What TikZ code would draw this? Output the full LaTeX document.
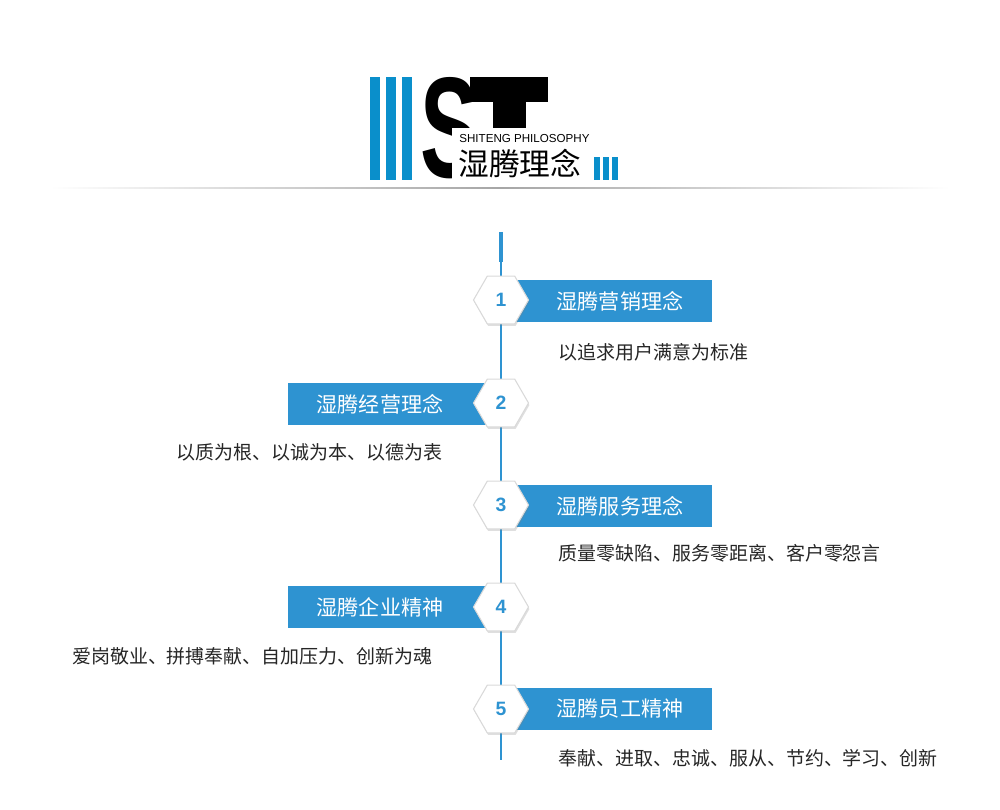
\documentclass[tikz,border=0pt]{standalone}
\usepackage{fontspec}
\setmainfont{Liberation Sans}
\newfontfamily\cjk{Noto Sans CJK SC}
\newfontfamily\heavy{Liberation Sans}
\definecolor{stblue}{HTML}{2E93D1}
\definecolor{lblue}{HTML}{0A8FCB}
\usetikzlibrary{shapes.geometric,shadows}
\tikzset{
 banner/.style={fill=stblue,minimum width=202*0.02cm,minimum height=42*0.02cm,inner sep=0pt},
 btext/.style={text=white,font=\cjk\fontsize{12}{12}\selectfont,inner sep=0pt},
 hexa/.style={regular polygon,regular polygon sides=6,minimum width=55*0.02cm,inner sep=0pt,fill=white,draw=black!15,line width=0.6pt,drop shadow={opacity=0.25,shadow xshift=0.5pt,shadow yshift=-1.2pt}},
 num/.style={text=stblue,font=\bfseries\fontsize{11}{11}\selectfont},
 desc/.style={font=\cjk\fontsize{10.8}{11}\selectfont,text=black!85,inner sep=0pt},
}
\begin{document}
\begin{tikzpicture}[x=0.02cm,y=-0.02cm]
\useasboundingbox (0,0) rectangle (1000,810);
% logo
\foreach \a in {370,386,402} \fill[lblue] (\a,77) rectangle +(10,103);
\foreach \a in {594,603,612} \fill[lblue] (\a,157) rectangle +(6,23);
\node[inner sep=0pt] (S) at (450,128.5) {\scalebox{0.74}[1.2]{\heavy\bfseries\fontsize{68}{68}\selectfont S}};
\fill[black] (470,77) rectangle (548,102);
\fill[black] (493,77) rectangle (526,130);
\fill[white] (452,128) rectangle (592,184);
\node[inner sep=0pt,anchor=west,font=\fontsize{6.6}{7}\selectfont] (en) at (459,139) {SHITENG PHILOSOPHY};
\node[inner sep=0pt,anchor=west,font=\cjk\fontsize{17.5}{18}\selectfont] (cn) at (458,164) {湿腾理念};
\shade[left color=white,right color=white,middle color=black!35] (50,187.5) rectangle (950,189);
% timeline
\draw[stblue,line width=1.2pt] (501,232) -- (501,760);
\draw[stblue,line width=2.5pt] (501,232) -- (501,262);
% items
\node[banner] (b1) at (611,301) {};
\node[banner] (b2) at (389,404) {};
\node[banner] (b3) at (611,506) {};
\node[banner] (b4) at (389,607) {};
\node[banner] (b5) at (611,709) {};
\node[btext] (t1) at (620,301) {湿腾营销理念};
\node[btext] (t2) at (380,404) {湿腾经营理念};
\node[btext] (t3) at (620,506) {湿腾服务理念};
\node[btext] (t4) at (380,607) {湿腾企业精神};
\node[btext] (t5) at (620,709) {湿腾员工精神};
\foreach \i/\y in {1/300,2/403,3/505,4/607,5/709}{
 \node[hexa] (h\i) at (501,\y) {};
 \node[num] (n\i) at (h\i) {\i};
}
\node[desc,anchor=west] (d1) at (558,352) {以追求用户满意为标准};
\node[desc,anchor=east] (d2) at (443,452) {以质为根、以诚为本、以德为表};
\node[desc,anchor=west] (d3) at (558,553) {质量零缺陷、服务零距离、客户零怨言};
\node[desc,anchor=east] (d4) at (433,656) {爱岗敬业、拼搏奉献、自加压力、创新为魂};
\node[desc,anchor=west] (d5) at (558,758) {奉献、进取、忠诚、服从、节约、学习、创新};
\end{tikzpicture}
\end{document}
